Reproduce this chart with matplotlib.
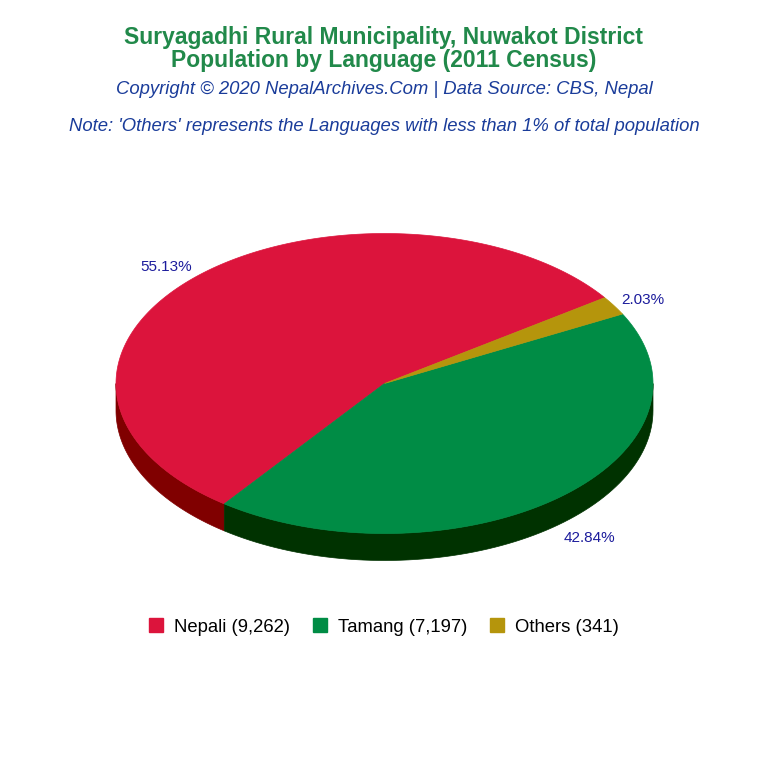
import numpy as np
import matplotlib.pyplot as plt
from matplotlib.patches import Polygon, Patch

plt.rcParams['font.family'] = ['Liberation Sans', 'DejaVu Sans']

languages = ['Nepali', 'Tamang', 'Others']
population = [9262, 7197, 341]
top_colors = ['#DC143C', '#008C45', '#B5950C']
side_colors = ['#800000', '#003200', '#6b5800']

total = sum(population)
shares = [p / total for p in population]

# pie geometry in pixels
cx, cy = 384.5, 383.5
rx, ry = 268.5, 150.0
depth = 27
start = 34.9

fig = plt.figure(figsize=(7.68, 7.68), dpi=100)
ax = fig.add_axes([0, 0, 1, 1])
ax.set_xlim(0, 768)
ax.set_ylim(768, 0)
ax.axis('off')


def pt(a, dy=0.0):
    r = np.radians(a)
    return cx + rx * np.cos(r), cy - ry * np.sin(r) + dy


# angles for each slice, going counter-clockwise
bounds = []
a = start
for s in shares:
    bounds.append((a, a + 360 * s))
    a += 360 * s

# side walls (front half only)
for (a0, a1), col in zip(bounds, side_colors):
    for off in (0, -360, 360):
        lo, hi = max(a0 + off, -180), min(a1 + off, 0)
        if hi <= lo:
            continue
        t = np.linspace(lo, hi, 80)
        top = [pt(v) for v in t]
        bot = [pt(v, depth) for v in t[::-1]]
        ax.add_patch(Polygon(top + bot, closed=True, facecolor=col, edgecolor=col, lw=0.5))

# top faces
for (a0, a1), col in zip(bounds, top_colors):
    t = np.linspace(a0, a1, 200)
    pts = [(cx, cy)] + [pt(v) for v in t]
    ax.add_patch(Polygon(pts, closed=True, facecolor=col, edgecolor=col, lw=0.5))

# percentage labels
for (a0, a1), s in zip(bounds, shares):
    mid = (a0 + a1) / 2
    r = np.radians(mid)
    x = cx + rx * 1.03 * np.cos(r)
    y = cy - ry * 1.1 * np.sin(r) + 2
    if np.sin(r) < 0:
        y += depth
    ha = 'left' if np.cos(r) > 0 else 'right'
    ax.text(x, y, f'{s * 100:.2f}%', ha=ha, va='center', fontsize=11, color='#1c1c9c')

ax.text(384, 44, 'Suryagadhi Rural Municipality, Nuwakot District', ha='center', va='baseline',
        fontsize=16.5, fontweight='bold', color='#21894a')
ax.text(384, 67, 'Population by Language (2011 Census)', ha='center', va='baseline',
        fontsize=16.5, fontweight='bold', color='#21894a')
ax.text(384, 94, 'Copyright © 2020 NepalArchives.Com | Data Source: CBS, Nepal', ha='center', va='baseline',
        fontsize=13.3, style='italic', color='#1a3c9a')
ax.text(384, 131, "Note: 'Others' represents the Languages with less than 1% of total population", ha='center',
        va='baseline', fontsize=13.3, style='italic', color='#1a3c9a')

handles = [Patch(facecolor=c, edgecolor=c) for c in top_colors]
labels = [f'{n} ({p:,})' for n, p in zip(languages, population)]
fig.legend(handles, labels, loc='center', bbox_to_anchor=(0.5, 1 - 627 / 768), ncol=3, frameon=False,
           fontsize=13.3, handlelength=0.76, handleheight=0.76, handletextpad=0.58, columnspacing=1.24)

fig.savefig('out.png', dpi=100)
